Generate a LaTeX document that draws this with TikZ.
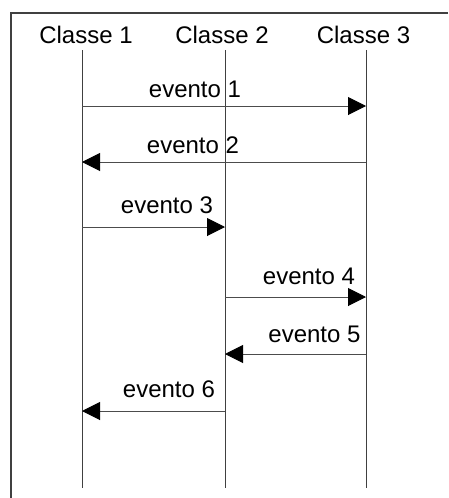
\documentclass[tikz,border=0pt]{standalone}
\usepackage{fontspec}
\setmainfont{Liberation Sans}
\usetikzlibrary{arrows.meta}
\begin{document}
\begin{tikzpicture}[x=1pt,y=-1pt,
  frameline/.style={draw=black!75,line width=1.2pt},
  lifeline/.style={draw=black!75,line width=1pt},
  msg/.style={draw=black!70,line width=1pt,-{Triangle[length=18pt,width=18pt,color=black]}},
  lbl/.style={inner sep=0pt,anchor=base,font=\fontsize{24}{28}\selectfont}]
\useasboundingbox (0,0) rectangle (448,498);
% frame (top and left edges)
\draw[frameline] (448,13) -- (11,13) -- (11,498);
% class headers
\node[lbl] (c1) at (86,43.5) {Classe 1};
\node[lbl] (c2) at (222,43.5) {Classe 2};
\node[lbl] (c3) at (363.5,43.5) {Classe 3};
% lifelines
\coordinate (t1) at (82,50);  \coordinate (b1) at (82,488);
\coordinate (t2) at (225,50); \coordinate (b2) at (225,488);
\coordinate (t3) at (366,50); \coordinate (b3) at (366,488);
\draw[lifeline] (t1) -- (b1);
\draw[lifeline] (t2) -- (b2);
\draw[lifeline] (t3) -- (b3);
% message end points
\coordinate (m1a) at (82,106);  \coordinate (m1b) at (366,106);
\coordinate (m2a) at (366,162); \coordinate (m2b) at (82,162);
\coordinate (m3a) at (82,227);  \coordinate (m3b) at (225,227);
\coordinate (m4a) at (225,297); \coordinate (m4b) at (366,297);
\coordinate (m5a) at (366,354); \coordinate (m5b) at (225,354);
\coordinate (m6a) at (225,411); \coordinate (m6b) at (82,411);
% messages
\draw[msg] (m1a) -- (m1b);
\draw[msg] (m2a) -- (m2b);
\draw[msg] (m3a) -- (m3b);
\draw[msg] (m4a) -- (m4b);
\draw[msg] (m5a) -- (m5b);
\draw[msg] (m6a) -- (m6b);
% message labels
\node[lbl] (n1) at (195,97) {evento 1};
\node[lbl] (n2) at (193,153) {evento 2};
\node[lbl] (n3) at (167,213) {evento 3};
\node[lbl] (n4) at (309,284) {evento 4};
\node[lbl] (n5) at (314.5,342) {evento 5};
\node[lbl] (n6) at (169,397) {evento 6};
\end{tikzpicture}
\end{document}
